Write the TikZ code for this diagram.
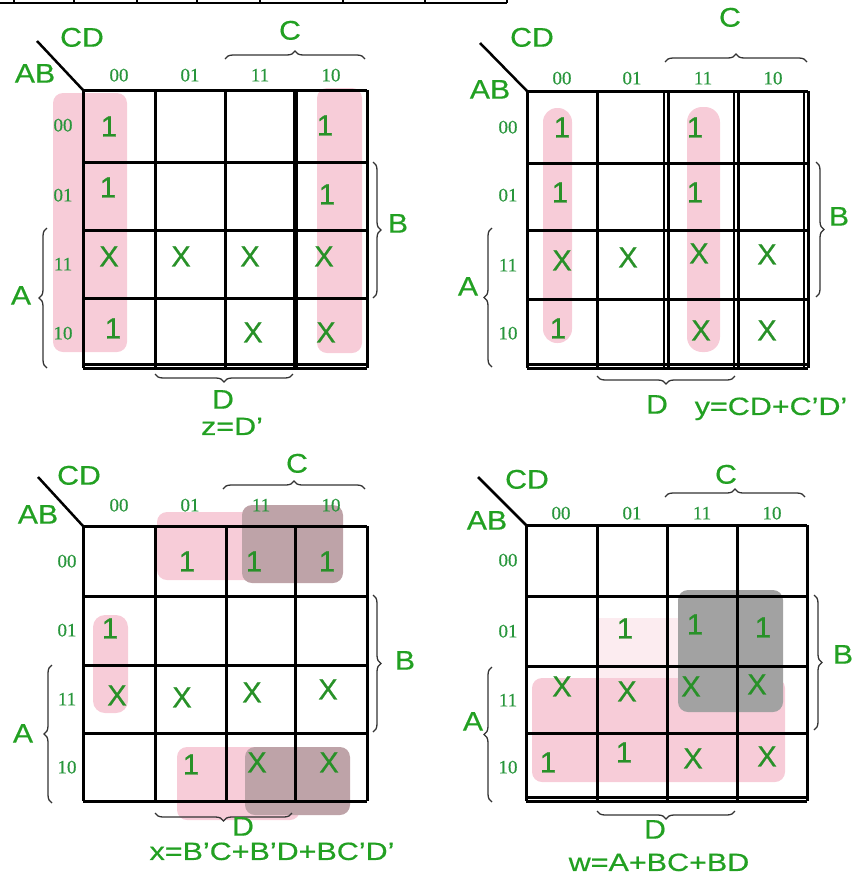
\documentclass[tikz,border=0pt]{standalone}
\usepackage{fontspec}
\usetikzlibrary{decorations.pathreplacing}
\newfontfamily\labfont[FakeStretch=1.12,FakeBold=0.5]{Liberation Sans}
\newfontfamily\formfont[FakeStretch=1.22,FakeBold=0.5]{Liberation Sans}
\newfontfamily\cellfont[FakeBold=0.8]{Liberation Sans}
\newfontfamily\hdrfont[FakeBold=0.4]{Liberation Serif}
\definecolor{kgreen}{RGB}{34,160,34}
\definecolor{sgreen}{RGB}{40,145,40}
\definecolor{hgreen}{RGB}{40,150,60}
\definecolor{kpink}{RGB}{247,204,216}
\definecolor{kbrown}{RGB}{190,163,168}
\definecolor{kgray}{RGB}{162,162,162}
\definecolor{kfaint}{RGB}{252,236,240}
\tikzset{
  lab/.style={font=\labfont\fontsize{27}{27}\selectfont, text=kgreen, inner sep=0pt, text height=19.3pt, text depth=0pt},
  formula/.style={font=\formfont\fontsize{25}{25}\selectfont, text=kgreen, inner sep=0pt, text height=17.9pt, text depth=0pt},
  sym/.style={font=\cellfont\fontsize{29}{29}\selectfont, text=sgreen, inner sep=0pt, text height=20.8pt, text depth=0pt},
  hdr/.style={font=\hdrfont\fontsize{19}{19}\selectfont, text=hgreen, inner sep=0pt, text height=12.8pt, text depth=0pt},
  gridline/.style={line width=3pt, black},
  diagline/.style={line width=2.5pt, black},
  brc/.style={decorate, decoration={brace, amplitude=8pt}, line width=1.3pt, black!80},
  grp/.style={rounded corners=10pt},
  tabline/.style={line width=1.5pt, black},
}
\begin{document}
\begin{tikzpicture}[x=1pt, y=-1pt]
\path[use as bounding box] (0,0) rectangle (855,879);
% cut-off table at top
\draw[tabline] (0,3) -- (507,3);
\foreach \tx in {14,74,137,197,260,343,425,507} \draw[tabline] (\tx,0) -- (\tx,3);

% ---------------- group fills ----------------
% map 1
\fill[kpink, grp] (53,93) rectangle (127,352);
\fill[kpink, grp] (317,88) rectangle (362,353);
% map 2
\fill[kpink, rounded corners=14pt] (543,108) rectangle (572,343);
\fill[kpink, rounded corners=15pt] (687,107) rectangle (720,352);
% map 3
\fill[kpink, grp] (157,512) rectangle (300,580);
\fill[kbrown, grp] (242,505) rectangle (343,583);
\fill[kpink, rounded corners=12pt] (93,615) rectangle (128,713);
\fill[kpink, grp] (177,747) rectangle (300,820);
\fill[kbrown, grp] (245,747) rectangle (350,815);
% map 4
\fill[kfaint] (597,618) rectangle (680,680);
\fill[kpink, grp] (532,678) rectangle (785,782);
\fill[kgray, grp] (678,590) rectangle (783,712);

% ---------------- grids ----------------
% map 1
\foreach \gx in {83,155,225,295,367} \draw[gridline] (\gx,90) -- (\gx,368);
\foreach \gy in {90,162,230,298,368} \draw[gridline] (83,\gy) -- (367,\gy);
\draw[gridline] (83,364) -- (367,364);
\draw[line width=5pt] (295,90) -- (295,368);
% map 2
\foreach \gx in {527,597,668,738,808} \draw[gridline] (\gx,91) -- (\gx,368);
\foreach \gy in {91,163,230,299,368} \draw[gridline] (527,\gy) -- (808,\gy);
\foreach \gx in {664,734,804} \draw[line width=1.5pt] (\gx,91) -- (\gx,368);
\draw[gridline] (527,364) -- (808,364);
% map 3
\foreach \gx in {83,155,226,295,367} \draw[gridline] (\gx,526) -- (\gx,801);
\foreach \gy in {526,596,665,733,801} \draw[gridline] (83,\gy) -- (367,\gy);
% map 4
\foreach \gx in {526,597,667,737,807} \draw[gridline] (\gx,525) -- (\gx,801);
\foreach \gy in {525,596,666,733,801} \draw[gridline] (526,\gy) -- (807,\gy);
\draw[gridline] (526,797) -- (807,797);

% ---------------- corner labels ----------------
\coordinate (m1d0) at (37,41);  \coordinate (m1o) at (83,90);
\coordinate (m2d0) at (480,43); \coordinate (m2o) at (527,91);
\coordinate (m3d0) at (38,477); \coordinate (m3o) at (83,526);
\coordinate (m4d0) at (478,477);\coordinate (m4o) at (526,525);
\draw[diagline] (m1d0) -- (m1o);
\draw[diagline] (m2d0) -- (m2o);
\draw[diagline] (m3d0) -- (m3o);
\draw[diagline] (m4d0) -- (m4o);
\node[lab] (m1CD) at (82,37) {CD};  \node[lab] (m1AB) at (35,73) {AB};
\node[lab] (m2CD) at (532,37) {CD}; \node[lab] (m2AB) at (490,89) {AB};
\node[lab] (m3CD) at (79,475) {CD}; \node[lab] (m3AB) at (38,514) {AB};
\node[lab] (m4CD) at (527,479) {CD};\node[lab] (m4AB) at (487,520) {AB};

% ---------------- headers ----------------
\foreach \cx/\t [count=\i] in {119/00,190/01,260/11,331/10} \node[hdr] (m1c\i) at (\cx,75) {\t};
\foreach \ry/\t [count=\i] in {125/00,195/01,264/11,333/10} \node[hdr] (m1r\i) at (63,\ry) {\t};
\foreach \cx/\t [count=\i] in {562/00,632/01,703/11,773/10} \node[hdr] (m2c\i) at (\cx,78) {\t};
\foreach \ry/\t [count=\i] in {127/00,195/01,265/11,333/10} \node[hdr] (m2r\i) at (508,\ry) {\t};
\foreach \cx/\t [count=\i] in {119/00,190/01,261/11,331/10} \node[hdr] (m3c\i) at (\cx,505) {\t};
\foreach \ry/\t [count=\i] in {561/00,630/01,699/11,767/10} \node[hdr] (m3r\i) at (67,\ry) {\t};
\foreach \cx/\t [count=\i] in {561/00,632/01,702/11,772/10} \node[hdr] (m4c\i) at (\cx,513) {\t};
\foreach \ry/\t [count=\i] in {560/00,631/01,700/11,767/10} \node[hdr] (m4r\i) at (508,\ry) {\t};

% ---------------- braces ----------------
% map 1
\coordinate (m1C1) at (225,59); \coordinate (m1C2) at (365,59);
\coordinate (m1B1) at (373,162); \coordinate (m1B2) at (373,298);
\coordinate (m1A1) at (47,368); \coordinate (m1A2) at (47,228);
\coordinate (m1D1) at (293,374); \coordinate (m1D2) at (155,374);
\draw[brc] (m1C1) -- (m1C2); \draw[brc] (m1B1) -- (m1B2);
\draw[brc] (m1A1) -- (m1A2); \draw[brc] (m1D1) -- (m1D2);
\node[lab] (m1C) at (290,30) {C};
\node[lab] (m1B) at (398,223) {B};
\node[lab] (m1A) at (21,295) {A};
\node[lab] (m1D) at (223,399) {D};
\node[formula] (m1f) at (232,426) {z=D’};
% map 2
\coordinate (m2C1) at (665,62); \coordinate (m2C2) at (807,62);
\coordinate (m2B1) at (816,162); \coordinate (m2B2) at (816,297);
\coordinate (m2A1) at (492,367); \coordinate (m2A2) at (492,228);
\coordinate (m2D1) at (735,376); \coordinate (m2D2) at (597,376);
\draw[brc] (m2C1) -- (m2C2); \draw[brc] (m2B1) -- (m2B2);
\draw[brc] (m2A1) -- (m2A2); \draw[brc] (m2D1) -- (m2D2);
\node[lab] (m2C) at (730,17) {C};
\node[lab] (m2B) at (839,216) {B};
\node[lab] (m2A) at (468,286) {A};
\node[lab] (m2D) at (657,404) {D};
\node[formula] (m2f) at (771,406) {y=CD+C’D’};
% map 3
\coordinate (m3C1) at (223,489); \coordinate (m3C2) at (365,489);
\coordinate (m3B1) at (373,595); \coordinate (m3B2) at (373,732);
\coordinate (m3A1) at (52,803); \coordinate (m3A2) at (52,665);
\coordinate (m3D1) at (292,813); \coordinate (m3D2) at (155,813);
\draw[brc] (m3C1) -- (m3C2); \draw[brc] (m3B1) -- (m3B2);
\draw[brc] (m3A1) -- (m3A2); \draw[brc] (m3D1) -- (m3D2);
\node[lab] (m3C) at (297,463) {C};
\node[lab] (m3B) at (405,660) {B};
\node[lab] (m3A) at (23,733) {A};
\node[lab] (m3D) at (243,826) {D};
\node[formula] (m3f) at (272,851) {x=B’C+B’D+BC’D’};
% map 4
\coordinate (m4C1) at (665,497); \coordinate (m4C2) at (805,497);
\coordinate (m4B1) at (814,595); \coordinate (m4B2) at (814,730);
\coordinate (m4A1) at (492,802); \coordinate (m4A2) at (492,667);
\coordinate (m4D1) at (735,811); \coordinate (m4D2) at (597,811);
\draw[brc] (m4C1) -- (m4C2); \draw[brc] (m4B1) -- (m4B2);
\draw[brc] (m4A1) -- (m4A2); \draw[brc] (m4D1) -- (m4D2);
\node[lab] (m4C) at (726,474) {C};
\node[lab] (m4B) at (843,654) {B};
\node[lab] (m4A) at (473,721) {A};
\node[lab] (m4D) at (655,829) {D};
\node[formula] (m4f) at (659,862) {w=A+BC+BD};

% ---------------- cell entries ----------------
% map 1
\foreach \sx/\sy/\t [count=\i] in {109/126/1,325/125/1,108/187/1,327/194/1,109/256/X,181/256/X,250/256/X,324/256/X,113/328/1,253/332/X,326/332/X}
  \node[sym] (m1s\i) at (\sx,\sy) {\t};
% map 2
\foreach \sx/\sy/\t [count=\i] in {562/127/1,695/127/1,560/192/1,695/192/1,562/260/X,628/257/X,699/253/X,767/254/X,558/328/1,701/330/X,767/330/X}
  \node[sym] (m2s\i) at (\sx,\sy) {\t};
% map 3
\foreach \sx/\sy/\t [count=\i] in {187/561/1,254/561/1,327/561/1,110/628/1,117/695/X,182/697/X,252/692/X,328/689/X,191/764/1,257/762/X,329/762/X}
  \node[sym] (m3s\i) at (\sx,\sy) {\t};
% map 4
\foreach \sx/\sy/\t [count=\i] in {625/628/1,695/624/1,763/627/1,562/686/X,627/691/X,691/686/X,757/684/X,548/762/1,624/752/1,693/758/X,767/756/X}
  \node[sym] (m4s\i) at (\sx,\sy) {\t};
\end{tikzpicture}
\end{document}
